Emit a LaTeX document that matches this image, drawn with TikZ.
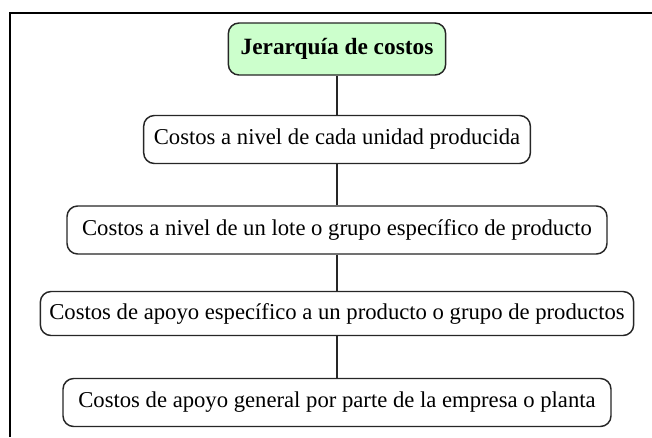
\documentclass[tikz,border=0pt]{standalone}
\usepackage{fontspec}
\setmainfont{Liberation Serif}
\definecolor{titlegreen}{RGB}{204,255,204}
\tikzset{
  level/.style={draw=black!85, line width=1.1pt, rounded corners=8pt, fill=white,
    minimum height=36pt, inner sep=0pt, font=\fontsize{17}{20}\selectfont},
  title/.style={level, fill=titlegreen, minimum height=39pt, font=\fontsize{17.5}{20}\selectfont\bfseries},
  link/.style={draw=black!85, line width=1pt}
}
\begin{document}
\begin{tikzpicture}[x=0.75pt,y=-0.75pt]
\useasboundingbox (0,0) rectangle (652,437);
% outer frame, cut at the page edge
\draw[line width=1.5pt] (10,437) -- (10,13) -- (652,13);

\node[title, minimum width=163pt] (top) at (337,49) {Jerarquía de costos};
\node[level, minimum width=290pt] (unit) at (337,139.5) {Costos a nivel de cada unidad producida};
\node[level, minimum width=405pt] (batch) at (337,230) {Costos a nivel de un lote o grupo específico de producto};
\node[level, minimum width=445pt, minimum height=33pt] (prod) at (337,313.5) {Costos de apoyo específico a un producto o grupo de productos};
\node[level, minimum width=411pt] (plant) at (337,402.5) {Costos de apoyo general por parte de la empresa o planta};

\draw[link] (top) -- (unit);
\draw[link] (unit) -- (batch);
\draw[link] (batch) -- (prod);
\draw[link] (prod) -- (plant);
\end{tikzpicture}
\end{document}
